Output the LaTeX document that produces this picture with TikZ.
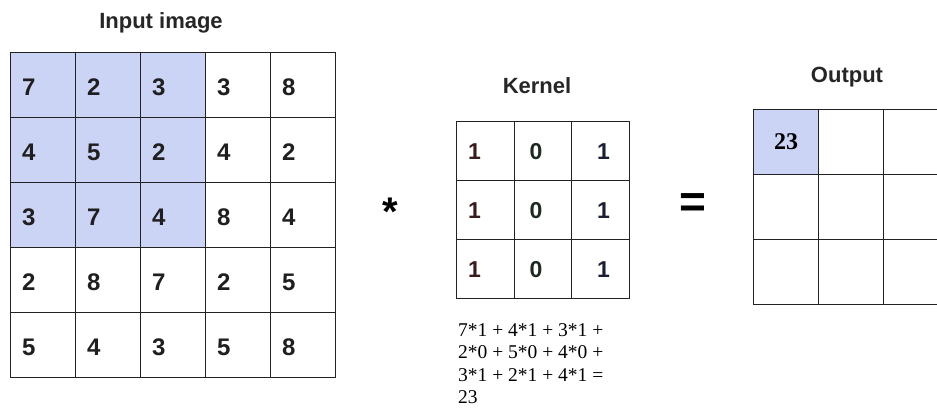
\documentclass[tikz,border=0pt]{standalone}
\usepackage{fontspec}
\setmainfont{Liberation Sans}
\newfontfamily\timesfont{Liberation Serif}
\usetikzlibrary{positioning}
\definecolor{sel}{RGB}{204,212,246}
\definecolor{gridline}{RGB}{34,34,34}
\definecolor{kone}{RGB}{58,28,28}
\definecolor{ktwo}{RGB}{28,42,32}
\definecolor{kthree}{RGB}{28,30,54}
\begin{document}
\begin{tikzpicture}[x=1pt,y=-1pt,font=\bfseries,
cell/.style={draw=gridline,line width=1.2pt,minimum width=65pt,minimum height=65pt,inner sep=0pt,anchor=north west},
kcell/.style={cell,minimum width=57.5pt,minimum height=59pt},
num/.style={anchor=west,inner sep=0pt,font=\fontsize{24}{24}\selectfont\bfseries,text=black!88},
title/.style={anchor=base,inner sep=0pt,font=\fontsize{22}{22}\selectfont\bfseries,text=black!85}]
\useasboundingbox (0,0) rectangle (937,412);
% input image, 3x3 window shaded
\node[title] (intitle) at (161,29) {Input image};
\foreach \row [count=\r] in {{7,2,3,3,8},{4,5,2,4,2},{3,7,4,8,4},{2,8,7,2,5},{5,4,3,5,8}}
  \foreach \v [count=\c] in \row {
    \pgfmathtruncatemacro\hit{and(\r<4,\c<4)}
    \ifnum\hit=1 \def\fc{sel}\else\def\fc{white}\fi
    \node[cell,fill=\fc] (in\r\c) at ({10+65*(\c-1)},{52+65*(\r-1)}) {};
    \node[num,yshift=-2pt] (inv\r\c) at ([xshift=12pt]in\r\c.west) {\v};
  }
\node[font=\fontsize{40}{40}\selectfont\bfseries] (star) at (390,212) {*};
% kernel
\node[title] (ktitle) at (537,93) {Kernel};
\foreach \c/\pad/\tint/\v in {1/12/kone/1,2/16/ktwo/0,3/26/kthree/1}
  \foreach \r in {1,2,3} {
    \node[kcell] (k\r\c) at ({456+57.5*(\c-1)},{121+59*(\r-1)}) {};
    \node[num,text=\tint,font=\fontsize{23}{23}\selectfont\bfseries] (kv\r\c) at ([xshift=\pad pt]k\r\c.west) {\v};
  }
\node[anchor=north west,align=left,inner sep=0pt,font=\timesfont\fontsize{19.5}{22.5}\selectfont\mdseries] (sum) at (458,323)
  {7*1 + 4*1 + 3*1 +\\2*0 + 5*0 + 4*0 +\\3*1 + 2*1 + 4*1 =\\23};
\node[font=\fontsize{46}{46}\selectfont\bfseries] (eq) at (693,206) {=};
% output
\node[title] (otitle) at (847,82) {Output};
\foreach \r in {1,2,3}
  \foreach \c in {1,2,3} {
    \pgfmathtruncatemacro\hit{and(\r<2,\c<2)}
    \ifnum\hit=1 \def\fc{sel}\else\def\fc{white}\fi
    \node[cell,fill=\fc] (out\r\c) at ({753+65*(\c-1)},{109+65*(\r-1)}) {};
  }
\node[font=\timesfont\fontsize{24}{24}\selectfont\bfseries] (res) at (out11) {23};
\end{tikzpicture}
\end{document}
